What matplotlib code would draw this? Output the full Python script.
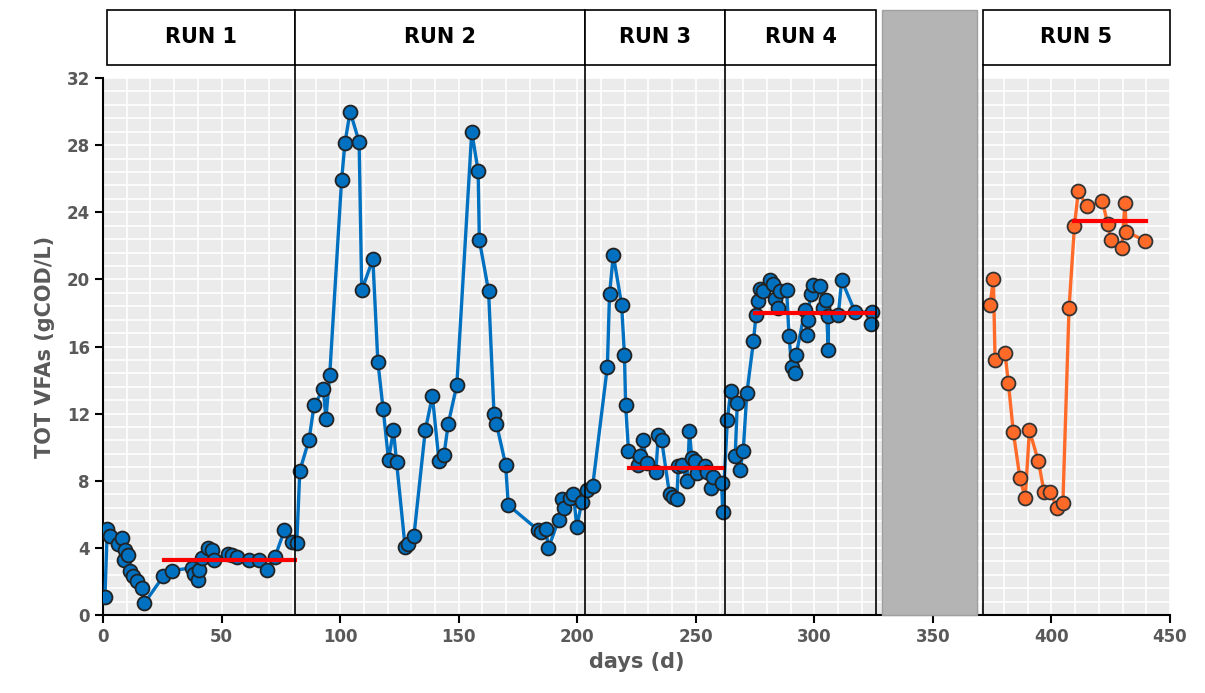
import numpy as np
import matplotlib
matplotlib.use("Agg")
import matplotlib.pyplot as plt
from matplotlib.patches import Rectangle
import matplotlib.transforms as mtransforms

# blue series (runs 1-4): day, total VFAs (gCOD/L)
blue_days = [0.8, 1.8, 3.0, 6.2, 7.9, 9.0, 9.3, 10.7, 11.4, 12.8, 14.2, 16.3, 17.4,
             25.4, 28.9, 37.4, 38.5, 40.2, 40.6, 41.6, 44.4, 45.8, 46.9, 52.8, 54.2,
             56.4, 61.6, 65.8, 69.0, 72.5, 76.5, 79.6,
             81.7, 83.0, 86.9, 89.0, 92.9, 94.0, 95.6, 100.6, 102.0, 104.2, 108.0,
             109.1, 113.8, 115.9, 118.1, 120.4, 122.5, 123.8, 127.4, 128.5, 131.1,
             135.9, 138.9, 141.7, 143.8, 145.6, 149.2, 155.5, 158.2, 158.7, 162.6,
             164.9, 165.9, 169.8, 170.9, 183.4, 184.8, 186.8, 187.8, 192.1, 193.5,
             194.4, 196.9, 198.4, 199.8, 201.9,
             204.2, 206.5, 212.7, 213.6, 215.2, 218.7, 219.9, 220.4, 221.6, 225.8,
             226.5, 227.6, 229.3, 233.1, 234.2, 235.6, 238.9, 240.5, 242.0, 242.6,
             244.0, 246.4, 247.3, 248.3, 249.7, 250.4, 253.9, 254.6, 256.4, 257.4,
             260.9, 261.3,
             263.3, 264.7, 267.5, 266.6, 268.7, 270.0, 271.5, 274.3, 275.4, 276.4,
             277.1, 278.5, 281.3, 282.7, 283.4, 284.8, 285.5, 288.3, 289.3, 290.4,
             291.9, 292.3, 296.1, 296.8, 297.1, 298.4, 299.6, 302.4, 303.5, 304.9,
             305.9, 305.9, 310.1, 311.5, 317.2, 324.2, 323.8]
blue_vals = [1.1, 5.15, 4.7, 4.2, 4.6, 3.3, 3.9, 3.55, 2.65, 2.35, 2.05, 1.6, 0.7,
             2.3, 2.65, 2.8, 2.45, 2.1, 2.7, 3.4, 4.0, 3.9, 3.3, 3.65, 3.6,
             3.45, 3.3, 3.25, 2.7, 3.45, 5.05, 4.35,
             4.27, 8.6, 10.45, 12.5, 13.45, 11.7, 14.3, 25.9, 28.1, 30.0, 28.2,
             19.35, 21.2, 15.1, 12.3, 9.25, 11.0, 9.1, 4.05, 4.25, 4.7,
             11.0, 13.05, 9.15, 9.55, 11.4, 13.7, 28.8, 26.45, 22.35, 19.3,
             11.95, 11.4, 8.95, 6.55, 5.07, 4.97, 5.1, 3.97, 5.66, 6.9,
             6.35, 6.95, 7.2, 5.26, 6.72,
             7.42, 7.69, 14.8, 19.1, 21.45, 18.5, 15.5, 12.5, 9.8, 8.95,
             9.45, 10.45, 9.05, 8.5, 10.7, 10.4, 7.2, 7.05, 6.9, 8.85,
             8.95, 8.0, 10.95, 9.35, 9.15, 8.45, 8.85, 8.55, 7.55, 8.25,
             7.85, 6.15,
             11.6, 13.35, 12.65, 9.45, 8.65, 9.8, 13.2, 16.3, 17.9, 18.7,
             19.4, 19.3, 19.95, 19.75, 18.85, 18.3, 19.3, 19.35, 16.65, 14.8,
             14.4, 15.5, 18.2, 16.7, 17.6, 19.15, 19.65, 19.6, 18.3, 18.75,
             15.8, 17.8, 17.9, 19.95, 18.05, 18.05, 17.35]

# orange series (run 5)
orange_days = [374.1, 375.5, 376.2, 380.4, 381.8, 383.9, 386.7, 388.9, 390.7, 394.5,
               396.9, 399.4, 402.5, 404.8, 407.4, 409.7, 411.3, 414.9, 421.5, 423.7,
               425.0, 429.6, 431.0, 431.5, 439.5]
orange_vals = [18.5, 20.0, 15.2, 15.6, 13.85, 10.9, 8.15, 6.95, 11.0, 9.15,
               7.3, 7.35, 6.35, 6.65, 18.3, 23.2, 25.25, 24.35, 24.65, 23.3,
               22.35, 21.85, 24.55, 22.85, 22.3]

# steady-state averages (start day, end day, value)
avg_start = [25.9, 222.0, 275.0, 409.7]
avg_end = [81.0, 261.6, 325.6, 439.8]
avg_vals = [3.28, 8.76, 18.0, 23.5]

# run boundaries
run_labels = ["RUN 1", "RUN 2", "RUN 3", "RUN 4", "RUN 5"]
run_start = [1.7, 81.0, 203.3, 262.3, 371.1]
run_end = [81.0, 203.3, 262.3, 326.0, 450.0]
gap_start, gap_end = 328.6, 368.6

gray_txt = "#595959"

fig = plt.figure(figsize=(12.05, 6.93), dpi=100)
ax = fig.add_axes([0.0855, 0.1126, 0.8855, 0.7748])
ax.set_facecolor("#EBEBEB")
ax.set_xlim(0, 450)
ax.set_ylim(0, 32)
ax.set_xticks(np.arange(0, 451, 50))
ax.set_yticks(np.arange(0, 33, 4))
ax.set_xticks(np.arange(0, 451, 10), minor=True)
ax.set_yticks(np.arange(0, 32.1, 0.8), minor=True)
ax.grid(which="both", color="white", linewidth=1.2)
ax.set_axisbelow(True)
ax.tick_params(which="minor", length=0)
ax.tick_params(which="major", direction="out", length=6, width=1.5, color="black",
               labelsize=12, labelcolor=gray_txt)
for lab in ax.get_xticklabels() + ax.get_yticklabels():
    lab.set_fontweight("bold")
ax.spines["top"].set_visible(False)
ax.spines["right"].set_visible(False)
ax.spines["left"].set_linewidth(1.5)
ax.spines["bottom"].set_linewidth(1.5)
ax.set_xlabel("days (d)", fontsize=15, fontweight="bold", color=gray_txt, labelpad=4)
ax.set_ylabel("TOT VFAs (gCOD/L)", fontsize=15, fontweight="bold", color=gray_txt, labelpad=8)

ax.plot(blue_days, blue_vals, "-o", color="#0070C0", linewidth=2.4, markersize=10,
        markerfacecolor="#0070C0", markeredgecolor="#222222", markeredgewidth=1.3, zorder=3)
ax.plot(orange_days, orange_vals, "-o", color="#FF6A28", linewidth=2.4, markersize=10,
        markerfacecolor="#FF6A28", markeredgecolor="#333333", markeredgewidth=1.3, zorder=3)
for s, e, v in zip(avg_start, avg_end, avg_vals):
    ax.plot([s, e], [v, v], color="#FF0000", linewidth=3, zorder=4)

# header boxes + separators spanning header and plot
trans = mtransforms.blended_transform_factory(ax.transData, fig.transFigure)
hdr_bot, hdr_top = 0.9062, 0.9856
plot_bot = 0.1126
fig.patches.append(Rectangle((gap_start, plot_bot), gap_end - gap_start, hdr_top - plot_bot,
                             transform=trans, facecolor="#B4B4B4", edgecolor="#A0A0A0",
                             linewidth=1, zorder=0.5))
for lab, s, e in zip(run_labels, run_start, run_end):
    fig.patches.append(Rectangle((s, hdr_bot), e - s, hdr_top - hdr_bot, transform=trans,
                                 facecolor="white", edgecolor="black", linewidth=1.2))
    fig.text((s + e) / 2, (hdr_bot + hdr_top) / 2, lab, transform=trans, ha="center",
             va="center", fontsize=15, fontweight="bold", color="black")
for x in [81.0, 203.3, 262.3, 326.0, 371.1]:
    fig.lines.append(plt.Line2D([x, x], [plot_bot, hdr_bot], transform=trans,
                                color="black", linewidth=1.2))

fig.savefig("out.png", dpi=100)
